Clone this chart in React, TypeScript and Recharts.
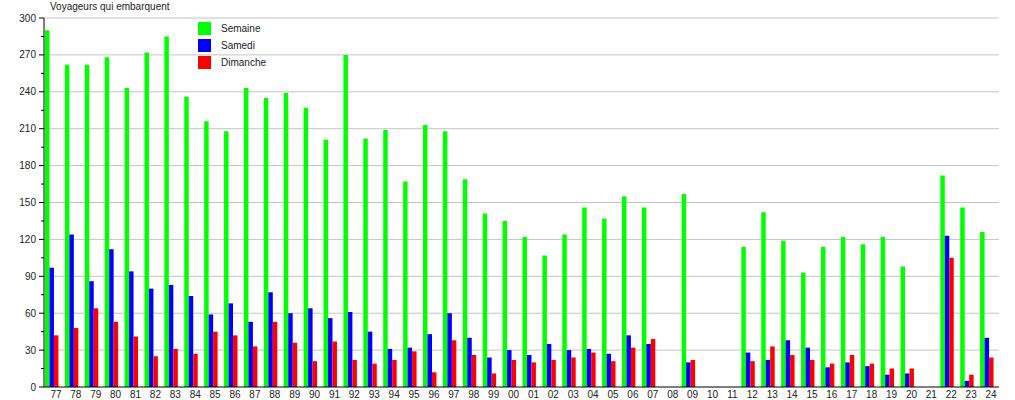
import { BarChart, Bar, XAxis, YAxis, CartesianGrid, Legend } from "recharts";

const years = [
  "77", "78", "79", "80", "81", "82", "83", "84", "85", "86", "87", "88",
  "89", "90", "91", "92", "93", "94", "95", "96", "97", "98", "99", "00",
  "01", "02", "03", "04", "05", "06", "07", "08", "09", "10", "11", "12",
  "13", "14", "15", "16", "17", "18", "19", "20", "21", "22", "23", "24",
];

const semaine = [
  290, 262, 262, 268, 243, 272, 285, 236, 216, 208, 243, 235,
  239, 227, 201, 270, 202, 209, 167, 213, 208, 169, 141, 135,
  122, 107, 124, 146, 137, 155, 146, null, 157, null, null, 114,
  142, 119, 93, 114, 122, 116, 122, 98, null, 172, 146, 126,
];

const samedi = [
  97, 124, 86, 112, 94, 80, 83, 74, 59, 68, 53, 77,
  60, 64, 56, 61, 45, 31, 32, 43, 60, 40, 24, 30,
  26, 35, 30, 31, 27, 42, 35, null, 20, null, null, 28,
  22, 38, 32, 16, 20, 17, 10, 11, null, 123, 5, 40,
];

const dimanche = [
  42, 48, 64, 53, 41, 25, 31, 27, 45, 42, 33, 53,
  36, 21, 37, 22, 19, 22, 29, 12, 38, 26, 11, 22,
  20, 22, 24, 28, 21, 32, 39, null, 22, null, null, 21,
  33, 26, 22, 19, 26, 19, 15, 15, null, 105, 10, 24,
];

const seriesNames = ["Semaine", "Samedi", "Dimanche"];

const yTicks = [
  0, 15, 30, 45, 60, 75, 90, 105, 120, 135, 150, 165, 180, 195, 210,
  225, 240, 255, 270, 285, 300,
];
const gridValues = [30, 60, 90, 120, 150, 180, 210, 240, 270, 300];

const data = years.map((year, i) => ({
  year,
  semaine: semaine[i],
  samedi: samedi[i],
  dimanche: dimanche[i],
}));

const FONT = "'Liberation Sans', Arial, Helvetica, sans-serif";
const AXIS_X = 44;

const YTick = (props: any) => {
  const { y, payload } = props;
  const major = payload.value % 30 === 0;
  return (
    <g>
      <line
        x1={AXIS_X - (major ? 5 : 3)}
        x2={AXIS_X}
        y1={y}
        y2={y}
        stroke="#000"
        strokeWidth={1}
      />
      {major && (
        <text
          x={36}
          y={y}
          dy={3.5}
          textAnchor="end"
          fontSize={10}
          fontFamily={FONT}
          fill="#222"
        >
          {payload.value}
        </text>
      )}
    </g>
  );
};

const XTick = (props: any) => {
  const { x, payload } = props;
  return (
    <text
      x={x + 2}
      y={398}
      textAnchor="middle"
      fontSize={10}
      fontFamily={FONT}
      fill="#222"
    >
      {payload.value}
    </text>
  );
};

// keep the legend in series order, recharts sorts it by name otherwise
const LegendBox = (props: any) => {
  const items = (props.payload || [])
    .filter((p: any) => seriesNames.includes(p.value))
    .sort(
      (a: any, b: any) =>
        seriesNames.indexOf(a.value) - seriesNames.indexOf(b.value)
    );
  return (
    <div style={{ fontFamily: FONT, fontSize: 10, color: "#222" }}>
      {items.map((entry: any) => (
        <div
          key={entry.value}
          style={{ display: "flex", alignItems: "center", height: 17 }}
        >
          <span
            style={{
              display: "inline-block",
              width: 13,
              height: 13,
              background: entry.color,
              marginRight: 10,
            }}
          />
          <span>{entry.value}</span>
        </div>
      ))}
    </div>
  );
};

export default function App() {
  return (
    <div
      style={{
        position: "absolute",
        left: 0,
        top: 0,
        width: 1015,
        height: 400,
        background: "#fff",
      }}
    >
      <div
        style={{
          position: "absolute",
          left: 50,
          top: 1,
          fontFamily: FONT,
          fontSize: 10,
          color: "#222",
          zIndex: 2,
        }}
      >
        Voyageurs qui embarquent
      </div>
      <BarChart
        width={1015}
        height={400}
        data={data}
        margin={{ top: 18, right: 16, bottom: 0, left: 0 }}
        barGap={0}
        barCategoryGap={0}
      >
        <CartesianGrid
          vertical={false}
          horizontalValues={gridValues}
          stroke="#c4c4c4"
        />
        <XAxis
          dataKey="year"
          height={13}
          interval={0}
          tickLine={false}
          axisLine={{ stroke: "#000" }}
          tick={<XTick />}
        />
        <YAxis
          width={44}
          domain={[0, 300]}
          ticks={yTicks}
          interval={0}
          tickLine={false}
          axisLine={{ stroke: "#000" }}
          tick={<YTick />}
        />
        <Legend
          layout="horizontal"
          verticalAlign="middle"
          align="center"
          wrapperStyle={{ left: 198, top: 20, width: "auto" }}
          content={<LegendBox />}
        />
        <Bar dataKey="semaine" name="Semaine" fill="#00ff00" barSize={5} isAnimationActive={false} />
        <Bar dataKey="samedi" name="Samedi" fill="#0000ff" barSize={5} isAnimationActive={false} />
        <Bar dataKey="dimanche" name="Dimanche" fill="#ff0000" barSize={5} isAnimationActive={false} />
        <Bar dataKey="blank" legendType="none" fill="none" barSize={5} isAnimationActive={false} />
      </BarChart>
    </div>
  );
}
